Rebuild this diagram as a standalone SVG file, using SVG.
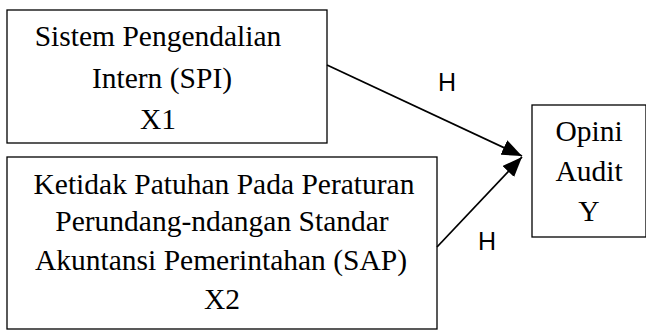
<svg xmlns="http://www.w3.org/2000/svg" width="646" height="331" viewBox="0 0 646 331">
<style>
.box{fill:#fff;stroke:#000;stroke-width:1.3}
.t{font-family:"Liberation Serif","Times New Roman",serif;font-size:29.5px;fill:#000;text-anchor:middle}
.h{font-family:"Liberation Sans",Arial,sans-serif;font-size:25px;fill:#000;text-anchor:middle}
.c{fill:none;stroke:#000;stroke-width:1.8}
</style>
<defs>
<marker id="ah" viewBox="0 0 20 16" refX="20" refY="8" markerWidth="20" markerHeight="16" markerUnits="userSpaceOnUse" orient="auto">
<path d="M0,0 L20,8 L0,16 z" fill="#000"/>
</marker>
</defs>
<rect width="646" height="331" fill="#fff"/>
<g id="node-x1">
<rect class="box" x="7" y="10" width="320" height="133"/>
<text class="t" x="158" y="46">Sistem Pengendalian</text>
<text class="t" x="162" y="88">Intern (SPI)</text>
<text class="t" x="158" y="129">X1</text>
</g>
<g id="node-x2">
<rect class="box" x="7" y="157" width="430" height="172"/>
<text class="t" x="224" y="194">Ketidak Patuhan Pada Peraturan</text>
<text class="t" x="222" y="231">Perundang-ndangan Standar</text>
<text class="t" x="221" y="270">Akuntansi Pemerintahan (SAP)</text>
<text class="t" x="222" y="309">X2</text>
</g>
<g id="node-y">
<rect class="box" x="532" y="105" width="114" height="132"/>
<text class="t" x="589" y="141">Opini</text>
<text class="t" x="589" y="181">Audit</text>
<text class="t" x="589" y="221">Y</text>
</g>
<g id="connectors">
<line class="c" x1="327" y1="65" x2="522" y2="156" marker-end="url(#ah)"/>
<line class="c" x1="437" y1="247" x2="522" y2="157" marker-end="url(#ah)"/>
<text class="h" x="447" y="91">H</text>
<text class="h" x="487" y="250">H</text>
</g>
</svg>
